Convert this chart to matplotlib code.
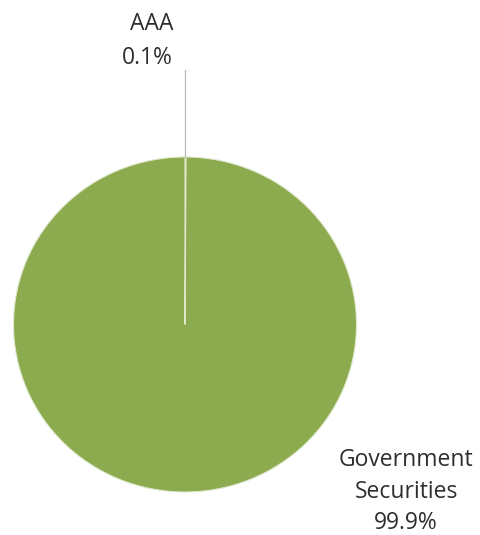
import matplotlib
matplotlib.use("Agg")
import matplotlib.pyplot as plt

categories = ["AAA", "Government Securities"]
values = [0.1, 99.9]
pct_labels = ["0.1%", "99.9%"]
colors = ["#b5cc7c", "#8cab4f"]

plt.rcParams['font.family'] = ['Open Sans', 'DejaVu Sans']

W, H = 480, 535
fig = plt.figure(figsize=(W / 100, H / 100), dpi=100)
ax = fig.add_axes([0, 0, 1, 1])
ax.axis('off')

# pie geometry (pixels, from top-left)
cx, cy, rx, ry = 185, 324.5, 171.5, 167.5
wedges, _ = ax.pie(values, colors=colors, startangle=90, counterclock=False,
                   center=(0, 0), radius=1,
                   wedgeprops=dict(edgecolor="#dfe8cc", linewidth=0.8))
ax.set_aspect('auto')
ax.set_xlim(-cx / rx, (W - cx) / rx)
ax.set_ylim(-(H - cy) / ry, cy / ry)

def fig_xy(x, y):
    return x / W, (H - y) / H

# leader line for AAA
fig.add_artist(plt.Line2D([185 / W, 185 / W], [(H - 70) / H, (H - 157) / H],
                          color="#b8b8b8", lw=0.9))

fs = 16.5
col = "#2e2e2e"
# AAA label
fig.text(*fig_xy(173, 30), categories[0], ha='right', va='baseline', fontsize=fs,
         color=col, fontweight='medium')
fig.text(*fig_xy(173, 64), pct_labels[0], ha='right', va='baseline', fontsize=fs,
         color=col, fontweight='medium')
# Government Securities label
lines = categories[1].split(" ") + [pct_labels[1]]
for line, yb in zip(lines, [466, 498, 529]):
    fig.text(*fig_xy(406, yb), line, ha='center', va='baseline', fontsize=fs,
             color=col, fontweight='medium')

fig.savefig("out.png", dpi=100)
